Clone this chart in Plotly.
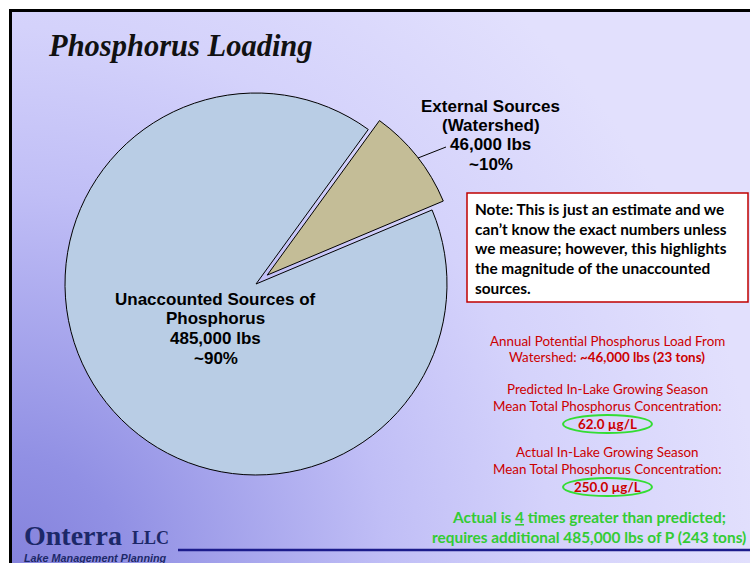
import base64
import plotly.graph_objects as go

# ---------------- data ----------------
slice_labels = ["External Sources (Watershed)", "Unaccounted Sources of Phosphorus"]
slice_values = [46000, 485000]
slice_colors = ["#c4bd97", "#b9cde5"]
slice_pull = [0.075, 0]

ext_label = ["External Sources", "(Watershed)", "46,000 lbs", "~10%"]
unacc_label = ["Unaccounted Sources of", "Phosphorus", "485,000 lbs", "~90%"]
note_lines = [
    "Note: This is just an estimate and we",
    "can\u2019t know the exact numbers unless",
    "we measure; however, this highlights",
    "the magnitude of the unaccounted",
    "sources.",
]
red_lines = [
    "Annual Potential Phosphorus Load From",
    "Watershed: <b>~46,000 lbs (23 tons)</b>",
    "Predicted In-Lake Growing Season",
    "Mean Total Phosphorus Concentration:",
    "<b>62.0 \u00b5g/L</b>",
    "Actual In-Lake Growing Season",
    "Mean Total Phosphorus Concentration:",
    "<b>250.0 \u00b5g/L</b>",
]
green_lines = [
    "Actual is <u>4</u> times greater than predicted;",
    "requires additional 485,000 lbs of P (243 tons)",
]

# ---------------- page geometry helpers (page pixels -> paper) ----------------
W, H = 750, 563


def X(px):
    return px / W


def Y(py):
    return 1 - py / H


# background gradient (decoration)
svg = f"""<svg xmlns='http://www.w3.org/2000/svg' width='750' height='563' viewBox='0 0 750 563' preserveAspectRatio='none'>
<defs><radialGradient id='g' gradientUnits='userSpaceOnUse' cx='0' cy='563' r='760'>
<stop offset='0' stop-color='#8482dc'/>
<stop offset='0.15' stop-color='#9190e4'/>
<stop offset='0.5' stop-color='#c0bef6'/>
<stop offset='0.72' stop-color='#d4d2fb'/>
<stop offset='1' stop-color='#e2e0fd'/>
</radialGradient></defs>
<rect x='0' y='0' width='750' height='563' fill='url(#g)'/></svg>"""
bg_uri = "data:image/svg+xml;base64," + base64.b64encode(svg.encode()).decode()

# pie placement: centre (256,284), radius 191 px
cx, cy, r = 256, 284, 191
half = r * (1 + max(slice_pull))

fig = go.Figure()
fig.add_trace(go.Pie(
    labels=slice_labels, values=slice_values,
    marker=dict(colors=slice_colors, line=dict(color="black", width=1)),
    pull=slice_pull, rotation=36, direction="clockwise", sort=False,
    textinfo="none", hoverinfo="label+value", showlegend=False,
    domain=dict(x=[X(cx - half), X(cx + half)], y=[Y(cy + half), Y(cy - half)]),
))

ann = []
sans = "Liberation Sans, Arial, sans-serif"
cal = "Lato, Carlito, Calibri, sans-serif"

ann.append(dict(x=X(46), y=Y(46), text="<b><i>Phosphorus Loading</i></b>", xanchor="left", yanchor="middle",
                font=dict(family="Liberation Serif, serif", size=30.5, color="#111111")))

for i, t in enumerate(ext_label):
    ann.append(dict(x=X(491), y=Y(106 + i * 19.4), text=f"<b>{t}</b>", xanchor="center", yanchor="middle",
                    font=dict(family=sans, size=17, color="black")))
for i, t in enumerate(unacc_label):
    ann.append(dict(x=X(216), y=Y(299 + i * 19.8), text=f"<b>{t}</b>", xanchor="center", yanchor="middle",
                    font=dict(family=sans, size=17, color="black")))

for i, t in enumerate(note_lines):
    ann.append(dict(x=X(473), y=Y(209 + i * 19.7), text=f"<b>{t}</b>", xanchor="left", yanchor="middle",
                    font=dict(family=cal, size=15.4, color="black")))

red_y = [341, 357, 389, 406, 424, 452, 469, 487]
for t, yy in zip(red_lines, red_y):
    ann.append(dict(x=X(607), y=Y(yy), text=t, xanchor="center", yanchor="middle",
                    font=dict(family=cal, size=13.4, color="#cc0000")))

green_y = [517, 537]
for t, yy in zip(green_lines, green_y):
    ann.append(dict(x=X(589), y=Y(yy), text=f"<b>{t}</b>", xanchor="center", yanchor="middle",
                    font=dict(family=cal, size=15.4, color="#33cc33")))

ann.append(dict(x=X(22), y=Y(535), text="<b>Onterra</b>", xanchor="left", yanchor="middle",
                font=dict(family="Liberation Serif, serif", size=28, color="#1c2868")))
ann.append(dict(x=X(130), y=Y(538), text="<b>LLC</b>", xanchor="left", yanchor="middle",
                font=dict(family="Liberation Serif, serif", size=18, color="#1c2868")))
ann.append(dict(x=X(22), y=Y(557.5), text="<b><i>Lake Management Planning</i></b>", xanchor="left", yanchor="middle",
                font=dict(family=sans, size=10.8, color="#1c2868")))

for a in ann:
    a.update(xref="paper", yref="paper", showarrow=False)

shapes = [
    # note box
    dict(type="rect", x0=X(467), x1=X(748), y0=Y(193), y1=Y(302), fillcolor="white",
         line=dict(color="#c00000", width=1.5)),
    # ellipses
    dict(type="circle", x0=X(563), x1=X(652), y0=Y(415), y1=Y(433), line=dict(color="#33dd33", width=2)),
    dict(type="circle", x0=X(563), x1=X(652), y0=Y(478), y1=Y(496), line=dict(color="#33dd33", width=2)),
    # leader line
    dict(type="line", x0=X(418), x1=X(446), y0=Y(158), y1=Y(147), line=dict(color="black", width=1)),
    # footer rule
    dict(type="line", x0=X(178), x1=X(752), y0=Y(550), y1=Y(550), line=dict(color="#1c1c8c", width=2.5)),
    # slide frame
    dict(type="line", x0=X(10.5), x1=X(10.5), y0=Y(9), y1=Y(570), line=dict(color="black", width=3)),
    dict(type="line", x0=X(9), x1=X(752), y0=Y(10.5), y1=Y(10.5), line=dict(color="black", width=3)),
]
for s in shapes:
    s.update(xref="paper", yref="paper")

fig.update_layout(
    width=W, height=H, margin=dict(l=0, r=0, t=0, b=0),
    paper_bgcolor="white", plot_bgcolor="rgba(0,0,0,0)",
    images=[dict(source=bg_uri, xref="paper", yref="paper", x=X(11), y=Y(11),
                 sizex=X(752) - X(11), sizey=Y(11) - Y(570), sizing="stretch",
                 xanchor="left", yanchor="top", layer="below")],
    annotations=ann, shapes=shapes,
)

fig.write_html(
    "out.html",
    config={"displayModeBar": False},
    post_script=("document.documentElement.style.margin='0';document.body.style.margin='0';"
                 "document.documentElement.style.overflow='hidden';document.body.style.overflow='hidden';"),
)
